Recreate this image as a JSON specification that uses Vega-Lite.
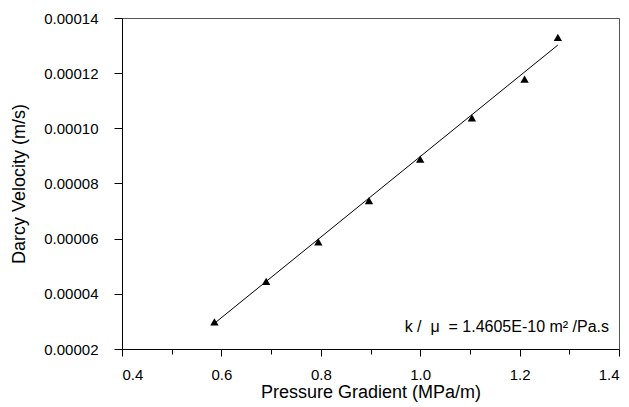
{
  "$schema": "https://vega.github.io/schema/vega-lite/v6.json",
  "autosize": "none",
  "width": 497,
  "height": 331,
  "padding": {"left": 122, "top": 18, "right": 10, "bottom": 58},
  "background": "white",
  "config": {
    "view": {"stroke": "#555555", "strokeWidth": 1},
    "font": "Liberation Sans",
    "axis": {
      "domainColor": "black",
      "tickColor": "black",
      "labelColor": "black",
      "titleColor": "black",
      "labelFont": "Liberation Sans",
      "titleFont": "Liberation Sans",
      "labelFontSize": 15,
      "titleFontSize": 18,
      "titleFontWeight": "normal",
      "grid": false
    }
  },
  "datasets": {
    "pts": [
      {"g": 0.586, "v": 0.0000298},
      {"g": 0.690, "v": 0.0000445},
      {"g": 0.795, "v": 0.0000588},
      {"g": 0.897, "v": 0.0000738},
      {"g": 1.000, "v": 0.0000888},
      {"g": 1.104, "v": 0.0001038},
      {"g": 1.210, "v": 0.0001178},
      {"g": 1.277, "v": 0.0001330}
    ],
    "fit": [
      {"g": 0.586, "v": 0.0000293},
      {"g": 1.277, "v": 0.0001302}
    ],
    "note": [
      {"g": 1.38, "v": 0.0000262, "t": "k /\u00a0\u00a0μ\u00a0\u00a0= 1.4605E-10 m² /Pa.s"}
    ]
  },
  "layer": [
    {
      "data": {"name": "fit"},
      "mark": {"type": "line", "color": "black", "strokeWidth": 1},
      "encoding": {
        "x": {
          "field": "g", "type": "quantitative",
          "scale": {"domain": [0.4, 1.4], "nice": false, "zero": false},
          "axis": {
            "title": "Pressure Gradient (MPa/m)",
            "values": [0.4, 0.5, 0.6, 0.7, 0.8, 0.9, 1.0, 1.1, 1.2, 1.3, 1.4],
            "labelExpr": "round(datum.value*10)%2==0 ? format(datum.value, '.1f') : ''",
            "tickSize": {"condition": {"test": "round(datum.value*10)%2==0", "value": 7}, "value": 5},
            "labelPadding": 11,
            "titlePadding": 1
          }
        },
        "y": {
          "field": "v", "type": "quantitative",
          "scale": {"domain": [0.00002, 0.00014], "nice": false, "zero": false},
          "axis": {
            "title": "Darcy Velocity (m/s)",
            "values": [0.00002, 0.00003, 0.00004, 0.00005, 0.00006, 0.00007, 0.00008, 0.00009, 0.0001, 0.00011, 0.00012, 0.00013, 0.00014],
            "labelExpr": "round(datum.value*100000)%2==0 ? format(datum.value, '.5f') : ''",
            "tickSize": {"condition": {"test": "round(datum.value*100000)%2==0", "value": 8}, "value": 4},
            "labelPadding": 16,
            "titlePadding": 15
          }
        }
      }
    },
    {
      "data": {"name": "pts"},
      "mark": {"type": "point", "shape": "triangle-up", "filled": true, "color": "black", "opacity": 1, "size": 70},
      "encoding": {
        "x": {"field": "g", "type": "quantitative"},
        "y": {"field": "v", "type": "quantitative"}
      }
    },
    {
      "data": {"name": "note"},
      "mark": {"type": "text", "align": "right", "baseline": "alphabetic", "fontSize": 16, "font": "Liberation Sans", "color": "black"},
      "encoding": {
        "x": {"field": "g", "type": "quantitative"},
        "y": {"field": "v", "type": "quantitative"},
        "text": {"field": "t"}
      }
    }
  ]
}
